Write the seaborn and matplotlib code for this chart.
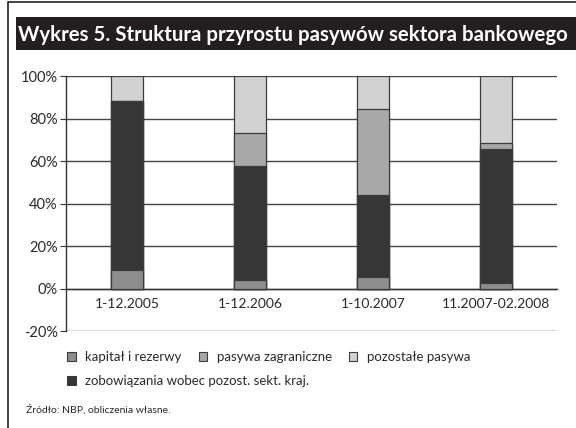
import numpy as np
import pandas as pd
import matplotlib
matplotlib.use("Agg")
import matplotlib.pyplot as plt
import seaborn as sns
from matplotlib.patches import Patch, Rectangle
from matplotlib.ticker import FixedLocator

periods = ["1-12.2005", "1-12.2006", "1-10.2007", "11.2007-02.2008"]
kapital = [8.6, 3.8, 5.3, 2.7]
zobowiazania = [79.8, 53.9, 38.8, 63.0]
zagraniczne = [0.0, 15.7, 40.5, 2.8]
pozostale = [11.6, 26.6, 15.4, 31.5]

labels = ["kapitał i rezerwy", "pasywa zagraniczne", "pozostałe pasywa",
          "zobowiązania wobec pozost. sekt. kraj."]
colors = {"kap": "#8e8e8e", "zagr": "#a8a8a8", "poz": "#d2d2d2", "zob": "#363636"}

sns.set_style("white")
plt.rcParams["font.family"] = ["Lato", "DejaVu Sans"]

df = pd.DataFrame({"okres": periods, "kap": kapital, "zob": zobowiazania,
                   "zagr": zagraniczne, "poz": pozostale})
# bottom -> top: kapital, zobowiazania, zagraniczne, pozostale
df["c1"] = df["kap"]
df["c2"] = df["c1"] + df["zob"]
df["c3"] = df["c2"] + df["zagr"]
df["c4"] = df["c3"] + df["poz"]

fig = plt.figure(figsize=(5.76, 4.28), dpi=100)
ax = fig.add_axes([0.1146, 0.2266, 0.8524, 0.5958])

for col, key in [("c4", "poz"), ("c3", "zagr"), ("c2", "zob"), ("c1", "kap")]:
    sns.barplot(data=df, x="okres", y=col, color=colors[key], width=0.26,
                edgecolor="#3c3c3c", linewidth=0.9, saturation=1, ax=ax, zorder=3)

ax.set_xlim(-0.5, 3.5)
ax.set_ylim(-20, 100)
ax.set_yticks(np.arange(-20, 101, 20))
ax.set_yticklabels([f"{v}%" for v in range(-20, 101, 20)], fontsize=10.5, color="#2a2a2a")
ax.yaxis.grid(True, color="#444444", linewidth=1.0)
ax.set_axisbelow(True)
ax.set_xlabel("")
ax.set_ylabel("")

for s in ["top", "right"]:
    ax.spines[s].set_visible(False)
ax.spines["bottom"].set_position(("data", 0))
ax.spines["bottom"].set_color("#333333")
ax.spines["left"].set_color("#333333")
ax.spines["bottom"].set_linewidth(1.0)
ax.spines["left"].set_linewidth(1.0)

ax.tick_params(axis="x", which="major", length=0, pad=7, labelsize=10, labelcolor="#2a2a2a")
ax.xaxis.set_minor_locator(FixedLocator([0.5, 1.5, 2.5, 3.5]))
ax.tick_params(axis="x", which="minor", length=4, direction="out", color="#333333")
ax.tick_params(axis="y", length=4, direction="out", color="#333333", pad=2)
ax.tick_params(axis="y", left=True)

# legends
h1 = [Patch(facecolor=colors[k], edgecolor="#3c3c3c", linewidth=0.8) for k in ["kap", "zagr", "poz"]]
fig.legend(h1, labels[:3], loc="upper left", bbox_to_anchor=(0.108, 0.192),
           ncol=3, frameon=False, fontsize=9.5, handlelength=0.65, handleheight=0.65,
           handletextpad=0.7, columnspacing=1.3, borderaxespad=0, labelcolor="#2a2a2a")
h2 = [Patch(facecolor=colors["zob"], edgecolor="#3c3c3c", linewidth=0.8)]
fig.legend(h2, labels[3:], loc="upper left", bbox_to_anchor=(0.108, 0.136),
           frameon=False, fontsize=9.5, handlelength=0.65, handleheight=0.65,
           handletextpad=0.7, borderaxespad=0, labelcolor="#2a2a2a")

# frame and title banner
fig.add_artist(Rectangle((8 / 576, -0.05), 1.2, 1.05 - 2 / 428, transform=fig.transFigure,
                         fill=False, edgecolor="#222222", linewidth=1.2))
fig.add_artist(Rectangle((16 / 576, 1 - 50 / 428), 1.0, 33 / 428, transform=fig.transFigure,
                         facecolor="#231f20", edgecolor="none"))
fig.text(18 / 576, 1 - 35 / 428, "Wykres 5. Struktura przyrostu pasywów sektora bankowego",
         color="white", fontsize=14.7, fontweight="bold", va="center", ha="left",
         family=["Lato", "DejaVu Sans"])
fig.text(26 / 576, 1 - 410 / 428, "Źródło: NBP, obliczenia własne.", fontsize=7.5,
         color="#2a2a2a", va="center", ha="left")

fig.savefig("out.png", dpi=100)
